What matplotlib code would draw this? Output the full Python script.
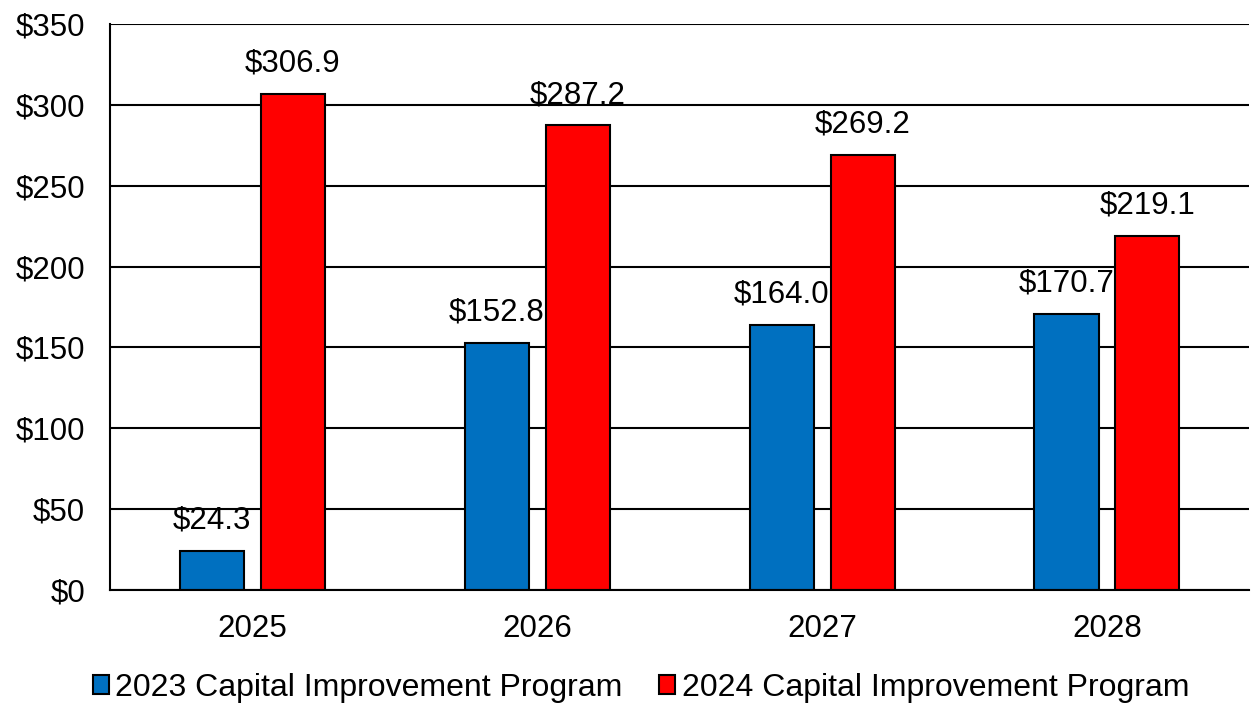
import matplotlib.pyplot as plt
import numpy as np

plt.rcParams["font.family"] = ["Liberation Sans", "DejaVu Sans"]

years = ["2025", "2026", "2027", "2028"]
cip_2023 = [24.3, 152.8, 164.0, 170.7]
cip_2024 = [306.9, 287.2, 269.2, 219.1]
series_names = ["2023 Capital Improvement Program", "2024 Capital Improvement Program"]
y_ticks = [0, 50, 100, 150, 200, 250, 300, 350]

fig = plt.figure(figsize=(12.52, 7.04), dpi=100)
ax = fig.add_axes([0.0879, 0.162, 0.910, 0.804])

x = np.arange(len(years))
width = 0.225
offset = 0.142

bars_a = ax.bar(x - offset, cip_2023, width, color="#0070C0", edgecolor="black",
                linewidth=1.5, label=series_names[0], zorder=3)
bars_b = ax.bar(x + offset, cip_2024, width, color="#FF0000", edgecolor="black",
                linewidth=1.5, label=series_names[1], zorder=3)

for bars in (bars_a, bars_b):
    for b in bars:
        ax.annotate(f"${b.get_height():.1f}", (b.get_x() + b.get_width() / 2, b.get_height()),
                    xytext=(0, 11), textcoords="offset points", ha="center", va="bottom",
                    fontsize=22.5)

ax.set_xlim(-0.5, 3.5)
ax.set_ylim(0, 350)
ax.set_yticks(y_ticks)
ax.set_yticklabels([f"${v}" for v in y_ticks])
ax.set_xticks(x)
ax.set_xticklabels(years)
ax.tick_params(axis="both", length=0, labelsize=22.5)
ax.tick_params(axis="y", pad=18)
ax.tick_params(axis="x", pad=17)
ax.yaxis.grid(True, color="black", linewidth=1.5, zorder=0)
ax.set_axisbelow(True)
for side in ("top", "right"):
    ax.spines[side].set_visible(False)
for side in ("left", "bottom"):
    ax.spines[side].set_linewidth(1.5)
    ax.spines[side].set_zorder(4)

fig.legend(loc="center", bbox_to_anchor=(0.512, 0.023), ncol=2, frameon=False,
           fontsize=23, handlelength=0.5, handleheight=0.5, handletextpad=0.2,
           columnspacing=1.15)

fig.savefig("out.png", dpi=100)
plt.close(fig)
